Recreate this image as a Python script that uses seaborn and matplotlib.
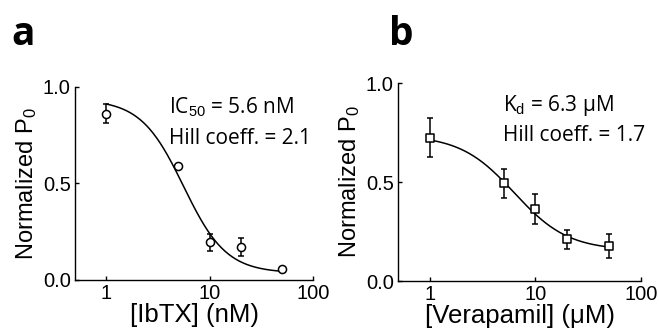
import numpy as np
import pandas as pd
import matplotlib
matplotlib.use("Agg")
import matplotlib.pyplot as plt
from matplotlib.ticker import NullLocator, FixedLocator, FixedFormatter
import seaborn as sns

# ---- data ----
conc_a = [1, 5, 10, 20, 50]            # [IbTX] (nM)
p0_a = [0.86, 0.59, 0.195, 0.17, 0.057]
err_a = [0.05, 0.0, 0.045, 0.045, 0.0]
ic50_a, hill_a, top_a, bottom_a = 5.6, 2.1, 0.934, 0.036

conc_b = [1, 5, 10, 20, 50]            # [Verapamil] (uM)
p0_b = [0.725, 0.493, 0.363, 0.21, 0.176]
err_b = [0.1, 0.071, 0.076, 0.05, 0.06]
kd_b, hill_b, top_b, bottom_b = 6.3, 1.7, 0.737, 0.155

xticks = [1, 10, 100]
xticklabels = ["1", "10", "100"]
yticks = [0.0, 0.5, 1.0]
yticklabels = ["0.0", "0.5", "1.0"]

sns.set_style("ticks")
plt.rcParams["font.family"] = ["Liberation Sans", "DejaVu Sans"]
plt.rcParams["mathtext.fontset"] = "custom"
plt.rcParams["mathtext.rm"] = "Liberation Sans"
plt.rcParams["mathtext.it"] = "Liberation Sans"
plt.rcParams["text.color"] = "black"
plt.rcParams["axes.labelcolor"] = "black"

fig = plt.figure(figsize=(6.59, 3.35), dpi=100)
ax_a = fig.add_axes([0.1138, 0.1642, 0.3612, 0.577])
ax_b = fig.add_axes([0.604, 0.161, 0.3687, 0.591])


def hill(x, k, n, top, bottom):
    x = np.asarray(x, dtype=float)
    return bottom + (top - bottom) / (1.0 + (x / k) ** n)


def panel(ax, conc, p0, err, k, n, top, bottom, marker, xlabel, ann1, ann2, letter, lx, tx):
    xs = np.logspace(0, np.log10(50), 200)
    fit = pd.DataFrame({"x": xs, "y": hill(xs, k, n, top, bottom)})
    sns.lineplot(data=fit, x="x", y="y", ax=ax, color="black", lw=1.1, zorder=2)
    ax.errorbar(conc, p0, yerr=err, fmt="none", ecolor="black", elinewidth=1.1,
                capsize=2.5, capthick=1.1, zorder=3)
    df = pd.DataFrame({"x": conc, "y": p0})
    sns.scatterplot(data=df, x="x", y="y", ax=ax, marker=marker, s=34,
                    facecolor="white", edgecolor="black", linewidth=1.1, zorder=4)
    ax.set_xscale("log")
    ax.set_xlim(0.5, 100)
    ax.set_ylim(0, 1.0)
    ax.xaxis.set_major_locator(FixedLocator(xticks))
    ax.xaxis.set_major_formatter(FixedFormatter(xticklabels))
    ax.xaxis.set_minor_locator(NullLocator())
    ax.set_yticks(yticks)
    ax.set_yticklabels(yticklabels)
    ax.tick_params(direction="in", length=3, width=1, labelsize=14.5, pad=3,
                   color="black", labelcolor="black")
    for s in ["top", "right"]:
        ax.spines[s].set_visible(False)
    for s in ["left", "bottom"]:
        ax.spines[s].set_linewidth(1.0)
        ax.spines[s].set_color("black")
    ax.set_xlabel(xlabel, fontsize=18.5, labelpad=0, color="black")
    ax.set_ylabel(r"Normalized P$_0$", fontsize=17, labelpad=3, color="black")
    ax.text(tx, 0.86, ann1, transform=ax.transAxes, fontsize=15,
            family=["Open Sans", "DejaVu Sans"], ha="left", va="baseline", color="black")
    ax.text(tx, 0.705, ann2, transform=ax.transAxes, fontsize=15,
            family=["Open Sans", "DejaVu Sans"], ha="left", va="baseline", color="black")
    fig.text(lx, 0.865, letter, fontsize=28, fontweight="bold",
             family=["Open Sans", "DejaVu Sans"], ha="left", va="baseline", color="black")


panel(ax_a, conc_a, p0_a, err_a, ic50_a, hill_a, top_a, bottom_a, "o",
      "[IbTX] (nM)", r"IC$_{50}$ = 5.6 nM", "Hill coeff. = 2.1", "a", 0.017, 0.395)
panel(ax_b, conc_b, p0_b, err_b, kd_b, hill_b, top_b, bottom_b, "s",
      "[Verapamil] (μM)", r"K$_\mathrm{d}$ = 6.3 μM", "Hill coeff. = 1.7", "b", 0.59, 0.43)

fig.savefig("out.png", dpi=100)
